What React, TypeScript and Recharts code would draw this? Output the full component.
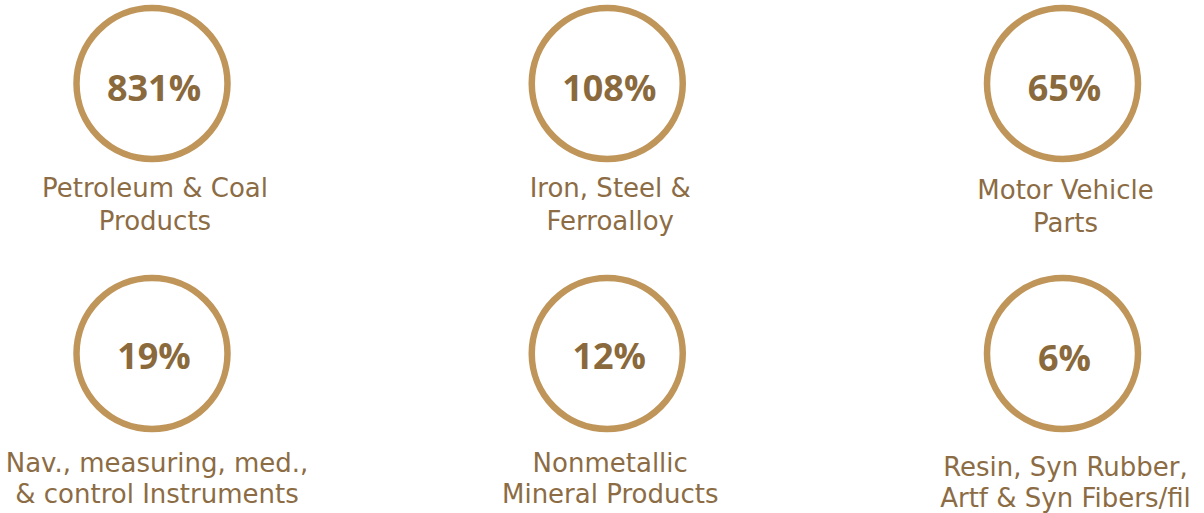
import React from "react";
import { ScatterChart, Scatter, XAxis, YAxis } from "recharts";

const categories: string[][] = [
  ["Petroleum & Coal", "Products"],
  ["Iron, Steel &", "Ferroalloy"],
  ["Motor Vehicle", "Parts"],
  ["Nav., measuring, med.,", "& control Instruments"],
  ["Nonmetallic", "Mineral Products"],
  ["Resin, Syn Rubber,", "Artf & Syn Fibers/fil"],
];
const values: number[] = [831, 108, 65, 19, 12, 6];
const columns: number[] = [0, 1, 2, 0, 1, 2];
const rows: number[] = [0, 0, 0, 1, 1, 1];

const data = values.map((v, i) => ({
  col: columns[i],
  row: rows[i],
  value: v,
  label: categories[i],
}));

const RING = "#BF9559";
const PCT = "#8A6A3D";
const LABEL = "#8C6C44";

const Badge = (props: any) => {
  const { cx, cy, payload } = props;
  if (cx == null || cy == null) return null;
  const row = payload.row;
  const col = payload.col;
  const extra = col === 2 ? (row === 0 ? 2 : 4) : 0;
  const base = (row === 0 ? 113.5 : 118.5) + extra;
  const gap = row === 0 ? 33 : 31;
  const pctDy = (row === 0 ? 17.5 : 15.5) + (col === 2 && row === 1 ? 2 : 0);
  const dx = row === 1 && col === 0 ? 5 : 3;
  return (
    <g>
      <circle cx={cx} cy={cy} r={75.5} fill="#fff" stroke={RING} strokeWidth={6.5} />
      <text
        x={cx + 2}
        y={cy + pctDy}
        textAnchor="middle"
        fill={PCT}
        fontFamily="'Open Sans', sans-serif"
        fontWeight={700}
        fontSize={36}
      >
        {payload.value}%
      </text>
      {payload.label.map((line: string, i: number) => (
        <text
          key={i}
          x={cx + dx}
          y={cy + base + i * gap}
          textAnchor="middle"
          fill={LABEL}
          fontFamily="'DejaVu Sans', sans-serif"
          fontSize={26}
        >
          {line}
        </text>
      ))}
    </g>
  );
};

export default function App() {
  return (
    <div style={{ position: "absolute", left: 0, top: 0, width: 1204, height: 513, background: "#fff" }}>
      <ScatterChart
        width={1204}
        height={513}
        margin={{ top: 83.5, bottom: 159.5, left: 152, right: 141.5 }}
      >
        <XAxis type="number" dataKey="col" domain={[0, 2]} hide />
        <YAxis type="number" dataKey="row" domain={[0, 1]} reversed hide />
        <Scatter data={data} shape={Badge} isAnimationActive={false} />
      </ScatterChart>
    </div>
  );
}
